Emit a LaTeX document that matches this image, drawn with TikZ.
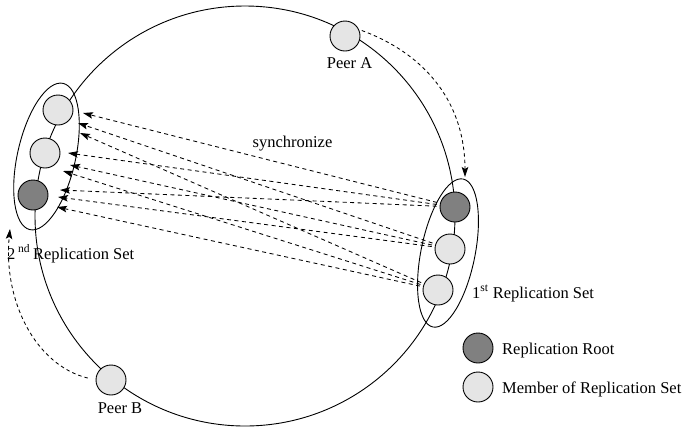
\documentclass[tikz,border=0pt]{standalone}
\usepackage{fontspec}
\setmainfont{Liberation Serif}
\usetikzlibrary{arrows.meta}
\definecolor{rootfill}{gray}{0.5}
\definecolor{memberfill}{gray}{0.9}

\begin{document}
\begin{tikzpicture}[x=1pt,y=-1pt,
  ring/.style={line width=0.9pt},
  peer/.style={circle,draw,line width=0.9pt,minimum size=30pt,inner sep=0pt,fill=memberfill},
  rootpeer/.style={peer,fill=rootfill},
  setoutline/.style={line width=0.9pt},
  tip/.style={-{Stealth[length=10pt,width=6.5pt,inset=2pt]}},
  syncline/.style={tip,line width=0.85pt,dash pattern=on 4pt off 3.5pt,shorten <=3pt},
  handover/.style={tip,line width=0.85pt,dash pattern=on 3.5pt off 3pt},
  lbl/.style={font=\fontsize{16.5}{20}\selectfont,inner sep=0pt}
]
\useasboundingbox (0,0) rectangle (687,429);

% the overlay ring
\draw[ring] (245,216) circle[radius=210];

% peers on the ring
\node[peer] (peerA) at (345,36) {};
\node[peer] (peerB) at (111,380) {};

% second replication set (left)
\node[peer]     (l1) at (58,110) {};
\node[peer]     (l2) at (45,153) {};
\node[rootpeer] (l3) at (33,195) {};

% first replication set (right)
\node[rootpeer] (r1) at (455,207) {};
\node[peer]     (r2) at (450,249) {};
\node[peer]     (r3) at (438,290) {};

% outlines around the replication sets
\draw[setoutline,rotate around={-12.8:(46.5,156.5)}] (46.5,156.5) ellipse[x radius=29,y radius=75];
\draw[setoutline,rotate around={-11.5:(448,253)}] (448,253) ellipse[x radius=27,y radius=75.5];

% arrow ends at the left set
\coordinate (t11) at (83,113);
\coordinate (t12) at (78,123);
\coordinate (t13) at (80,133);
\coordinate (t21) at (68,153);
\coordinate (t22) at (70,165);
\coordinate (t23) at (63,171);
\coordinate (t31) at (60,190);
\coordinate (t32) at (58,197);
\coordinate (t33) at (57,207);

% synchronization from every member of the first set to every member of the second
\draw[syncline] (r1) -- (t11);
\draw[syncline] (r2) -- (t12);
\draw[syncline] (r3) -- (t13);
\draw[syncline] (r1) -- (t21);
\draw[syncline] (r2) -- (t22);
\draw[syncline] (r3) -- (t23);
\draw[syncline] (r1) -- (t31);
\draw[syncline] (r2) -- (t32);
\draw[syncline] (r3) -- (t33);

% peers joining the replication sets
\coordinate (rtop) at (465,177);
\coordinate (lbot) at (10,229);
\draw[handover,shorten <=3pt] (peerA.25) .. controls (428,55) and (465,105) .. (rtop);
\draw[handover,shorten <=8pt] (peerB.west) .. controls (35,365) and (3,300) .. (lbot);

% labels
\node[lbl,anchor=base] (labA) at (349.5,68) {Peer A};
\node[lbl,anchor=base] (labB) at (120,413) {Peer B};
\node[lbl,anchor=base] (labSync) at (292.5,147) {synchronize};
\node[lbl,anchor=base west] (labSet2) at (7,259) {2\,\textsuperscript{nd}\,Replication Set};
\node[lbl,anchor=base west] (labSet1) at (472,298) {1\textsuperscript{st}\ Replication Set};

% legend
\node[rootpeer] (legRoot) at (478,348) {};
\node[peer] (legMember) at (478,387) {};
\node[lbl,anchor=base west] (legRootText) at (502,354) {Replication Root};
\node[lbl,anchor=base west] (legMemberText) at (502,393) {Member of Replication Set};
\end{tikzpicture}
\end{document}
